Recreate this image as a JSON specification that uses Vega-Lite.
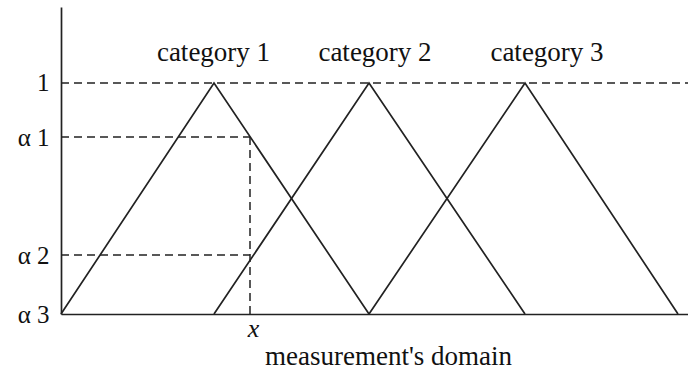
{
  "$schema": "https://vega.github.io/schema/vega-lite/v6.json",
  "width": 627,
  "height": 307,
  "autosize": "none",
  "padding": {"left": 61, "top": 7, "right": 0, "bottom": 63},
  "background": "white",
  "config": {"view": {"stroke": null}, "font": "Liberation Serif"},
  "datasets": {
    "tri": [
      {"cat": "category 1", "i": 0, "x": 0, "y": 0},
      {"cat": "category 1", "i": 1, "x": 153, "y": 1},
      {"cat": "category 1", "i": 2, "x": 308, "y": 0},
      {"cat": "category 2", "i": 0, "x": 153, "y": 0},
      {"cat": "category 2", "i": 1, "x": 308, "y": 1},
      {"cat": "category 2", "i": 2, "x": 464, "y": 0},
      {"cat": "category 3", "i": 0, "x": 308, "y": 0},
      {"cat": "category 3", "i": 1, "x": 464, "y": 1},
      {"cat": "category 3", "i": 2, "x": 617, "y": 0}
    ],
    "dash": [
      {"x": 0, "x2": 627, "y": 1, "y2": 1},
      {"x": 0, "x2": 189, "y": 0.766, "y2": 0.766},
      {"x": 0, "x2": 189, "y": 0.255, "y2": 0.255},
      {"x": 189, "x2": 189, "y": 0, "y2": 0.766}
    ],
    "labels": [
      {"label": "category 1", "x": 152.5, "y": 1.095},
      {"label": "category 2", "x": 314, "y": 1.095},
      {"label": "category 3", "x": 486, "y": 1.095}
    ]
  },
  "layer": [
    {
      "data": {"name": "dash"},
      "mark": {"type": "rule", "color": "#222", "strokeWidth": 1.5, "strokeDash": [8, 5]},
      "encoding": {
        "x": {"field": "x", "type": "quantitative"},
        "x2": {"field": "x2"},
        "y": {"field": "y", "type": "quantitative"},
        "y2": {"field": "y2"}
      }
    },
    {
      "data": {"name": "tri"},
      "mark": {"type": "line", "color": "#222", "strokeWidth": 1.7},
      "encoding": {
        "x": {
          "field": "x", "type": "quantitative",
          "scale": {"domain": [0, 627], "nice": false, "zero": false},
          "axis": {
            "values": [192],
            "labelExpr": "'x'",
            "labelFontStyle": "italic",
            "labelFontSize": 26,
            "labelColor": "#111",
            "labelPadding": 1,
            "ticks": false,
            "grid": false,
            "domainColor": "#222",
            "domainWidth": 1.7,
            "title": "measurement's domain",
            "titleFontSize": 27,
            "titleFontWeight": "normal",
            "titleColor": "#111",
            "titleX": 327,
            "titleY": 50,
            "titleBaseline": "alphabetic"
          }
        },
        "y": {
          "field": "y", "type": "quantitative",
          "scale": {"domain": [0, 1.329], "nice": false, "zero": false},
          "axis": {
            "values": [0, 0.255, 0.766, 1],
            "labelExpr": "datum.value == 1 ? '1' : datum.value > 0.7 ? 'α 1' : datum.value > 0.2 ? 'α 2' : 'α 3'",
            "labelFontSize": 25,
            "labelColor": "#111",
            "labelPadding": 12,
            "ticks": false,
            "grid": false,
            "domainColor": "#222",
            "domainWidth": 1.7,
            "title": null
          }
        },
        "detail": {"field": "cat"},
        "order": {"field": "i"}
      }
    },
    {
      "data": {"name": "labels"},
      "mark": {"type": "text", "fontSize": 27, "color": "#111", "align": "center", "baseline": "alphabetic"},
      "encoding": {
        "x": {"field": "x", "type": "quantitative"},
        "y": {"field": "y", "type": "quantitative"},
        "text": {"field": "label"}
      }
    }
  ]
}
